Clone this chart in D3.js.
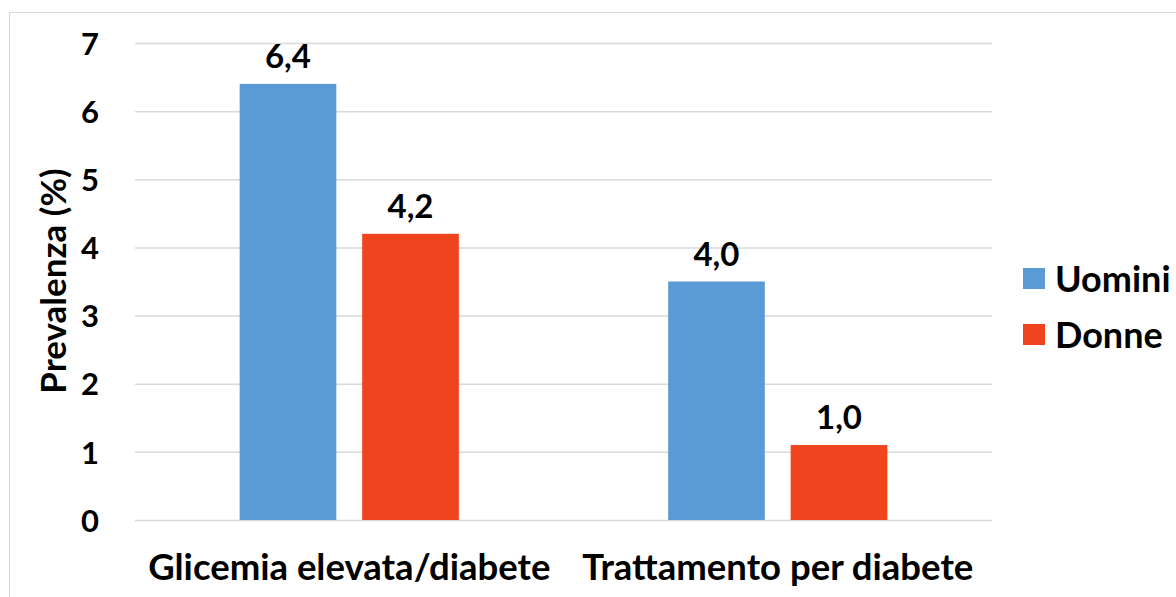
<!DOCTYPE html>
<html><head><meta charset="utf-8">
<script src="https://cdn.jsdelivr.net/npm/d3@7"></script>
<style>body{margin:0;background:#fff}svg{display:block}text{font-family:Lato,"Open Sans",sans-serif;font-weight:bold;fill:#000}</style>
</head><body>
<svg id="c" width="1176" height="597"></svg>
<script>
const categories = ["Glicemia elevata/diabete", "Trattamento per diabete"];
const seriesNames = ["Uomini", "Donne"];
const uomini = [6.4, 3.5];
const donne = [4.2, 1.1];
const uominiLabels = ["6,4", "4,0"];
const donneLabels = ["4,2", "1,0"];
const yTicks = [0, 1, 2, 3, 4, 5, 6, 7];
const colors = ["#5b9bd5", "#f0441e"];

(function () {
const svg = d3.select("#c");
svg.append("rect").attr("x", 9.5).attr("y", 12.5).attr("width", 1200).attr("height", 700)
  .attr("fill", "none").attr("stroke", "#d9d9d9");

const pL = 135, pR = 992, pT = 43, pB = 520;
const y = d3.scaleLinear().domain([0, 7]).range([pB, pT]);
const x0 = d3.scaleBand().domain(categories).range([pL, pR]).paddingInner(0).paddingOuter(0);
const x1 = d3.scaleBand().domain(seriesNames).range([0, x0.bandwidth()]).paddingInner(0.211).paddingOuter(0.854);

const font = "Lato, sans-serif";
const yAxis = d3.axisLeft(y).tickValues(yTicks).tickSize(-(pR - pL)).tickFormat(d3.format("d"));
const gy = svg.append("g").attr("transform", `translate(${pL},0)`).call(yAxis);
gy.select(".domain").remove();
gy.selectAll(".tick line").attr("stroke", "#d9d9d9").attr("stroke-width", 1.5);
gy.selectAll(".tick text").attr("x", -36).attr("dy", "0.36em").style("font-size", "31px").style("font-family", font).style("font-weight", "bold").attr("fill", "#000");

const xAxis = d3.axisBottom(x0).tickSize(0);
const gx = svg.append("g").attr("transform", `translate(0,${pB})`).call(xAxis);
gx.select(".domain").remove();
gx.selectAll(".tick text").attr("y", 60).attr("dy", "0").style("font-size", "36.5px").style("font-family", font).style("font-weight", "bold").attr("fill", "#000");

const rows = categories.map((c, i) => ({ c, vals: [
  { s: seriesNames[0], v: uomini[i], l: uominiLabels[i], col: colors[0] },
  { s: seriesNames[1], v: donne[i], l: donneLabels[i], col: colors[1] }
]}));

const g = svg.selectAll("g.cat").data(rows).join("g").attr("class", "cat")
  .attr("transform", d => `translate(${x0(d.c)},0)`);
g.selectAll("rect").data(d => d.vals).join("rect")
  .attr("x", d => x1(d.s)).attr("width", x1.bandwidth())
  .attr("y", d => y(d.v)).attr("height", d => pB - y(d.v)).attr("fill", d => d.col);
g.selectAll("text").data(d => d.vals).join("text")
  .attr("x", d => x1(d.s) + x1.bandwidth() / 2).attr("y", d => y(d.v) - 16)
  .attr("text-anchor", "middle").style("font-size", "33px").text(d => d.l);

svg.append("text").attr("transform", "translate(66,281) rotate(-90)").attr("text-anchor", "middle")
  .style("font-size", "35px").text("Prevalenza (%)");

const leg = svg.selectAll("g.leg").data(seriesNames).join("g").attr("class", "leg")
  .attr("transform", (d, i) => `translate(1023,${268 + i * 56})`);
leg.append("rect").attr("width", 22).attr("height", 21).attr("fill", (d, i) => colors[i]);
leg.append("text").attr("x", 32).attr("y", 11).attr("dy", "0.36em").style("font-size", "36px").text(d => d);
})();
</script>
</body></html>
